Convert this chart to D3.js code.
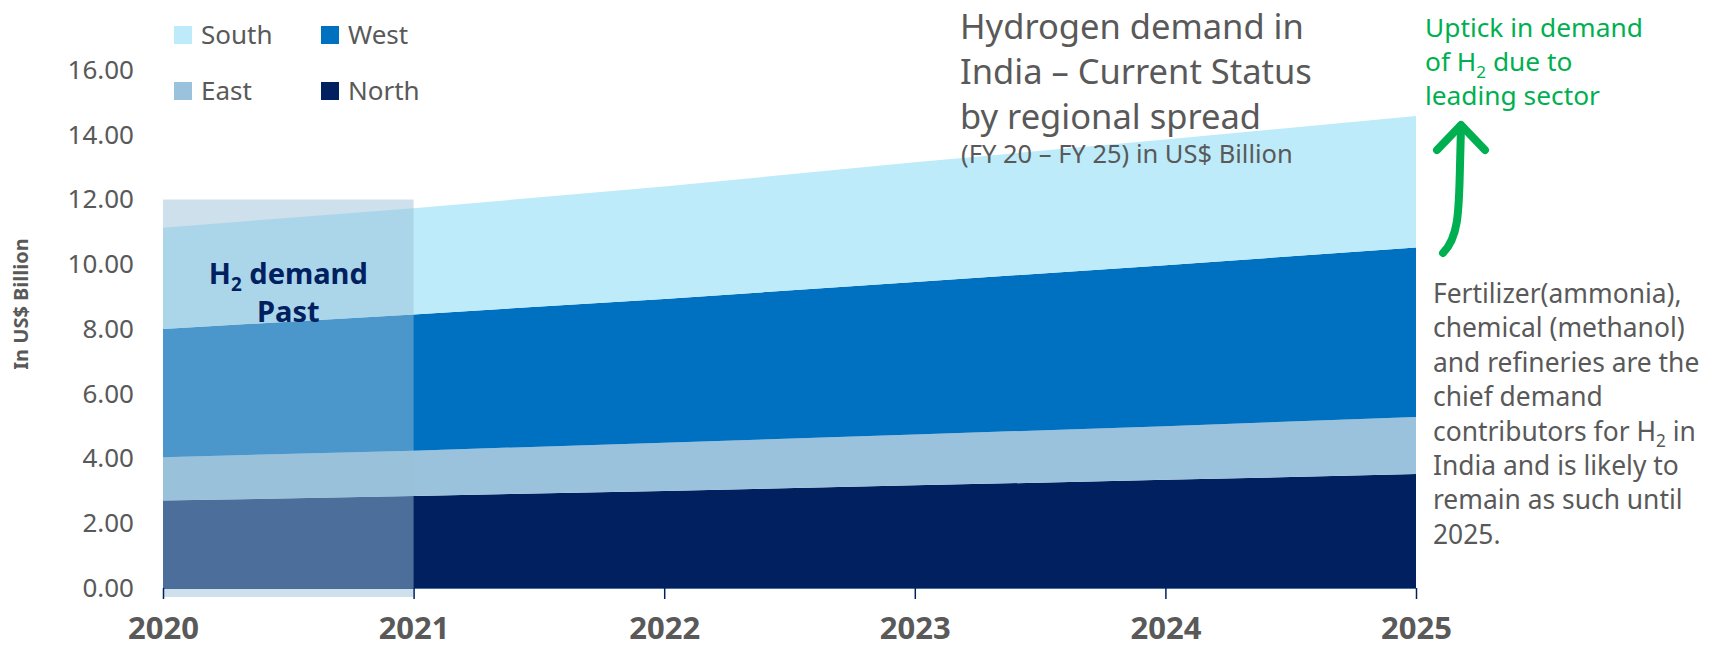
<!DOCTYPE html>
<html>
<head>
  <meta charset="UTF-8">
  <title>Hydrogen demand in India</title>
  <style>
    body { margin: 0; background: #fff; }
    svg { display: block; font-family: "Noto Sans", sans-serif; }
  </style>
</head>
<body>
<svg></svg>
<script src="https://d3js.org/d3.v7.min.js"></script>
<script>
    let width = 1717, height = 649;

    // data (US$ billion)
    var years = [2020, 2021, 2022, 2023, 2024, 2025];
    var north = [2.70, 2.84, 3.00, 3.17, 3.34, 3.52];
    var east  = [1.34, 1.40, 1.49, 1.57, 1.66, 1.76];
    var west  = [3.96, 4.21, 4.44, 4.71, 4.97, 5.24];
    var south = [3.13, 3.28, 3.47, 3.70, 3.88, 4.06];
    var yTicks = [0, 2, 4, 6, 8, 10, 12, 14, 16];
    var pastRange = [2020, 2021];
    var pastTop = 12;

    var keys = ["North", "East", "West", "South"];
    var colors = { South: "#bdebf9", West: "#0070c0", East: "#9bc2dc", North: "#002060" };

    var rows = years.map((y, i) => ({ year: y, North: north[i], East: east[i], West: west[i], South: south[i] }));

    let svg = d3.select("svg")
        .attr("width", width)
        .attr("height", height);

    var x = d3.scaleLinear().domain([2020, 2025]).range([163, 1416]);
    var y = d3.scaleLinear().domain([0, 16]).range([588, 70]);

    var series = d3.stack().keys(keys)(rows);

    var area = d3.area()
        .x(d => x(d.data.year))
        .y0(d => y(d[0]))
        .y1(d => y(d[1]));

    svg.append("g")
        .selectAll("path")
        .data(series)
        .enter()
        .append("path")
        .attr("d", area)
        .attr("fill", d => colors[d.key]);

    // "past" shading box
    svg.append("rect")
        .attr("x", x(pastRange[0]))
        .attr("y", y(pastTop))
        .attr("width", x(pastRange[1]) - x(pastRange[0]))
        .attr("height", y(0) - y(pastTop) + 9)
        .attr("fill", "#98c0d8")
        .attr("opacity", 0.49);

    // text with an optional subscript part
    function addLine(g, parts, lx, ly, size, color, anchor, weight) {
        var t = g.append("text")
            .attr("x", lx).attr("y", ly)
            .attr("font-size", size)
            .attr("fill", color)
            .attr("text-anchor", anchor || "start")
            .attr("font-weight", weight || "normal");
        var shift = 0;
        parts.forEach(p => {
            if (p.sub) {
                t.append("tspan").text(p.sub).attr("font-size", size * 0.65).attr("dy", size * 0.25);
                shift = -size * 0.25;
            } else {
                t.append("tspan").text(p.t).attr("dy", shift);
                shift = 0;
            }
        });
        return t;
    }

    var cx = (x(pastRange[0]) + x(pastRange[1])) / 2;
    addLine(svg, [{ t: "H" }, { sub: "2" }, { t: " demand" }], cx, 284, 29, "#002060", "middle", "bold");
    addLine(svg, [{ t: "Past" }], cx, 322, 29, "#002060", "middle", "bold");

    // x axis
    var xAxis = svg.append("g")
        .attr("transform", "translate(0," + y(0) + ")")
        .call(d3.axisBottom(x).tickValues(years).tickFormat(d3.format("d")).tickSize(11).tickPadding(18));
    xAxis.select(".domain").attr("stroke", "#4a6e9a").attr("stroke-width", 1);
    xAxis.selectAll(".tick line").attr("stroke", "#002060").attr("stroke-width", 1.5);
    xAxis.selectAll(".tick text")
        .attr("font-family", "Noto Sans, sans-serif")
        .attr("font-size", 31)
        .attr("font-weight", "bold")
        .attr("fill", "#595959");

    // y axis (labels only)
    var yAxis = svg.append("g")
        .attr("transform", "translate(134,0)")
        .call(d3.axisLeft(y).tickValues(yTicks).tickFormat(d3.format(".2f")).tickSize(0).tickPadding(0));
    yAxis.select(".domain").remove();
    yAxis.selectAll(".tick text")
        .attr("font-family", "Noto Sans, sans-serif")
        .attr("font-size", 26)
        .attr("fill", "#595959");

    svg.append("text")
        .attr("transform", "translate(28,304) rotate(-90)")
        .attr("text-anchor", "middle")
        .attr("font-size", 20)
        .attr("font-weight", "bold")
        .attr("fill", "#595959")
        .text("In US$ Billion");

    // legend
    var legendItems = [
        { key: "South", lx: 174, ly: 26 },
        { key: "West", lx: 321, ly: 26 },
        { key: "East", lx: 174, ly: 82 },
        { key: "North", lx: 321, ly: 82 }
    ];
    var legend = svg.selectAll("g.legend")
        .data(legendItems)
        .enter().append("g")
        .attr("class", "legend");
    legend.append("rect")
        .attr("x", d => d.lx)
        .attr("y", d => d.ly)
        .attr("width", 18)
        .attr("height", 18)
        .attr("fill", d => colors[d.key]);
    legend.append("text")
        .attr("x", d => d.lx + 27)
        .attr("y", d => d.ly + 18)
        .attr("font-size", 26)
        .attr("fill", "#595959")
        .text(d => d.key);

    // title
    var titleLines = ["Hydrogen demand in", "India \u2013 Current Status", "by regional spread"];
    svg.append("g").selectAll("text")
        .data(titleLines)
        .enter().append("text")
        .attr("x", 960)
        .attr("y", (d, i) => 39 + i * 45)
        .attr("font-size", 34.5)
        .attr("fill", "#595959")
        .text(d => d);
    svg.append("text")
        .attr("x", 961)
        .attr("y", 163)
        .attr("font-size", 25.5)
        .attr("fill", "#595959")
        .text("(FY 20 \u2013 FY 25) in US$ Billion");

    // green annotation
    var green = "#00b050";
    var notes = svg.append("g");
    addLine(notes, [{ t: "Uptick in demand" }], 1425, 37, 26.3, green);
    addLine(notes, [{ t: "of H" }, { sub: "2" }, { t: " due to" }], 1425, 71, 26.3, green);
    addLine(notes, [{ t: "leading sector" }], 1425, 105, 26.3, green);

    svg.append("path")
        .attr("d", "M1461,127 L1460,165 C1459,215 1458,238 1443,253")
        .attr("fill", "none")
        .attr("stroke", green)
        .attr("stroke-width", 8)
        .attr("stroke-linecap", "round");
    svg.append("path")
        .attr("d", "M1437,150 L1461,125 L1485,150")
        .attr("fill", "none")
        .attr("stroke", green)
        .attr("stroke-width", 8)
        .attr("stroke-linecap", "round")
        .attr("stroke-linejoin", "round");

    // side text
    var side = [
        [{ t: "Fertilizer(ammonia)," }],
        [{ t: "chemical (methanol)" }],
        [{ t: "and refineries are the" }],
        [{ t: "chief demand" }],
        [{ t: "contributors for H" }, { sub: "2" }, { t: " in" }],
        [{ t: "India and is likely to" }],
        [{ t: "remain as such until" }],
        [{ t: "2025." }]
    ];
    side.forEach((parts, i) => addLine(notes, parts, 1433, 303 + i * 34.4, 26.4, "#595959"));
</script>
</body>
</html>
